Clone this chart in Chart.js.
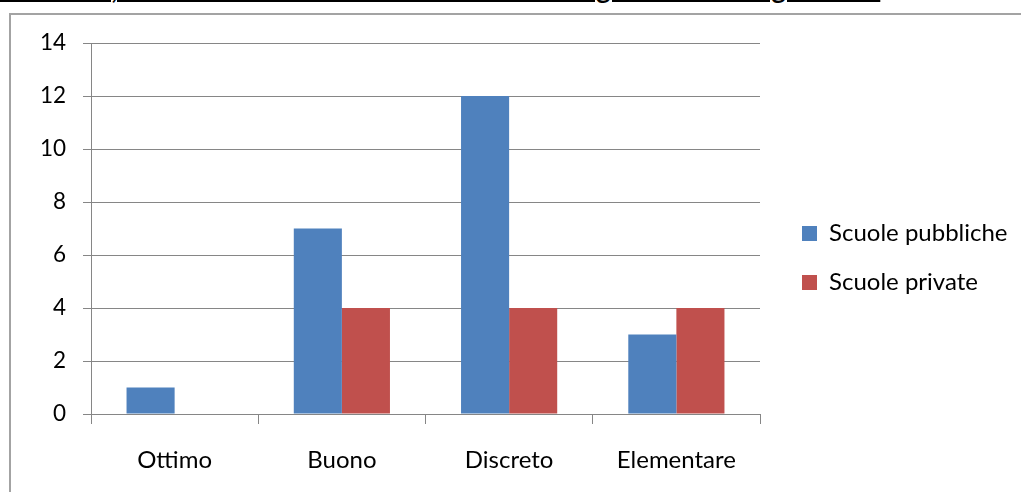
<!DOCTYPE html>
<html>
<head>
<meta charset="utf-8">
<script src="https://cdn.jsdelivr.net/npm/chart.js@4/dist/chart.umd.min.js"></script>
<style>
  html, body { margin: 0; padding: 0; background: #fff; width: 1021px; height: 492px; overflow: hidden; }
  #titolo {
    position: absolute; left: 0; top: -27px;
    font: bold 27px Lato, "DejaVu Sans", sans-serif; line-height: 32px;
    text-decoration: underline; text-decoration-thickness: 2px; text-underline-offset: 1px;
    letter-spacing: 0.15px; white-space: nowrap; color: #000;
  }
  #cornice {
    position: absolute; left: 9px; top: 13px; width: 1030px; height: 500px;
    border: 2px solid #a3a3a3; box-sizing: border-box;
  }
  #area { position: absolute; left: 11px; top: 15px; width: 1010px; height: 477px; }
</style>
</head>
<body>
<div id="titolo">Grafico 3, Tabella 3: Grado di conoscenza della lingua italiana degli alunni</div>
<div id="cornice"></div>
<div id="area"><canvas id="grafico" width="1010" height="477"></canvas></div>
<script>
// Categorie e valori
const categorie = ['Ottimo', 'Buono', 'Discreto', 'Elementare'];
const scuolePubbliche = [1, 7, 12, 3];
const scuolePrivate = [0, 4, 4, 4];
const nomiSerie = ['Scuole pubbliche', 'Scuole private'];
const tickY = { min: 0, max: 14, passo: 2 };

const GRIGIO = '#868686';
const FONT = 'Lato, "Open Sans", sans-serif';

// Legenda: larghezza fissa, quadratini a x fissa, prima voce centrata a y fissa
const LEGENDA_W = 261;
const LEGENDA_X = 791;
const LEGENDA_Y1 = 218.5;

const posLegenda = {
  id: 'posLegenda',
  beforeLayout(chart) {
    const lg = chart.legend;
    if (lg && !lg._fitPatch) {
      const fitOrig = lg.fit;
      lg.fit = function () { fitOrig.call(this); this.width = LEGENDA_W; };
      lg._fitPatch = true;
    }
  },
  afterLayout(chart) {
    const lg = chart.legend;
    if (!lg) return;
    const lab = lg.options.labels;
    const fs = lab.font.size;
    const ih = Math.max(fs, lab.boxHeight);
    const p = lab.padding;
    const dx = (LEGENDA_X - p) - lg.left;
    lg.left += dx; lg.right += dx;
    const curY = (lg.top + p + lg.bottom - lg.legendItems.length * (ih + p)) / 2;
    const dy = (LEGENDA_Y1 - ih / 2) - curY;
    lg.top += dy; lg.bottom += dy;
  }
};

new Chart(document.getElementById('grafico'), {
  type: 'bar',
  data: {
    labels: categorie,
    datasets: [
      { label: nomiSerie[0], data: scuolePubbliche, backgroundColor: '#4F81BD' },
      { label: nomiSerie[1], data: scuolePrivate, backgroundColor: '#C0504D' }
    ]
  },
  options: {
    responsive: false,
    animation: false,
    devicePixelRatio: 1,
    categoryPercentage: 0.575,
    barPercentage: 1,
    layout: { padding: { top: 28, left: 0, right: 0, bottom: 0 } },
    scales: {
      x: {
        offset: true,
        grid: { display: true, drawOnChartArea: false, drawTicks: true, tickLength: 10, color: GRIGIO, offset: true },
        border: { display: true, color: GRIGIO, width: 1 },
        ticks: { color: '#000', font: { family: FONT, size: 24 }, padding: 22, maxRotation: 0 },
        afterFit(s) { s.height = 78; s.paddingLeft = 0; s.paddingRight = 0; }
      },
      y: {
        min: tickY.min, max: tickY.max,
        grid: { color: GRIGIO, tickLength: 8, drawTicks: true },
        border: { display: true, color: GRIGIO, width: 1 },
        ticks: { stepSize: tickY.passo, color: '#000', font: { family: FONT, size: 22.5 }, padding: 17 },
        afterFit(s) { s.width = 80; s.paddingTop = 0; s.paddingBottom = 0; }
      }
    },
    plugins: {
      legend: {
        position: 'right',
        labels: {
          boxWidth: 15, boxHeight: 15, padding: 25,
          color: '#000', font: { family: FONT, size: 24 }
        }
      },
      tooltip: { enabled: false },
      title: { display: false }
    }
  },
  plugins: [posLegenda]
});
</script>
</body>
</html>
